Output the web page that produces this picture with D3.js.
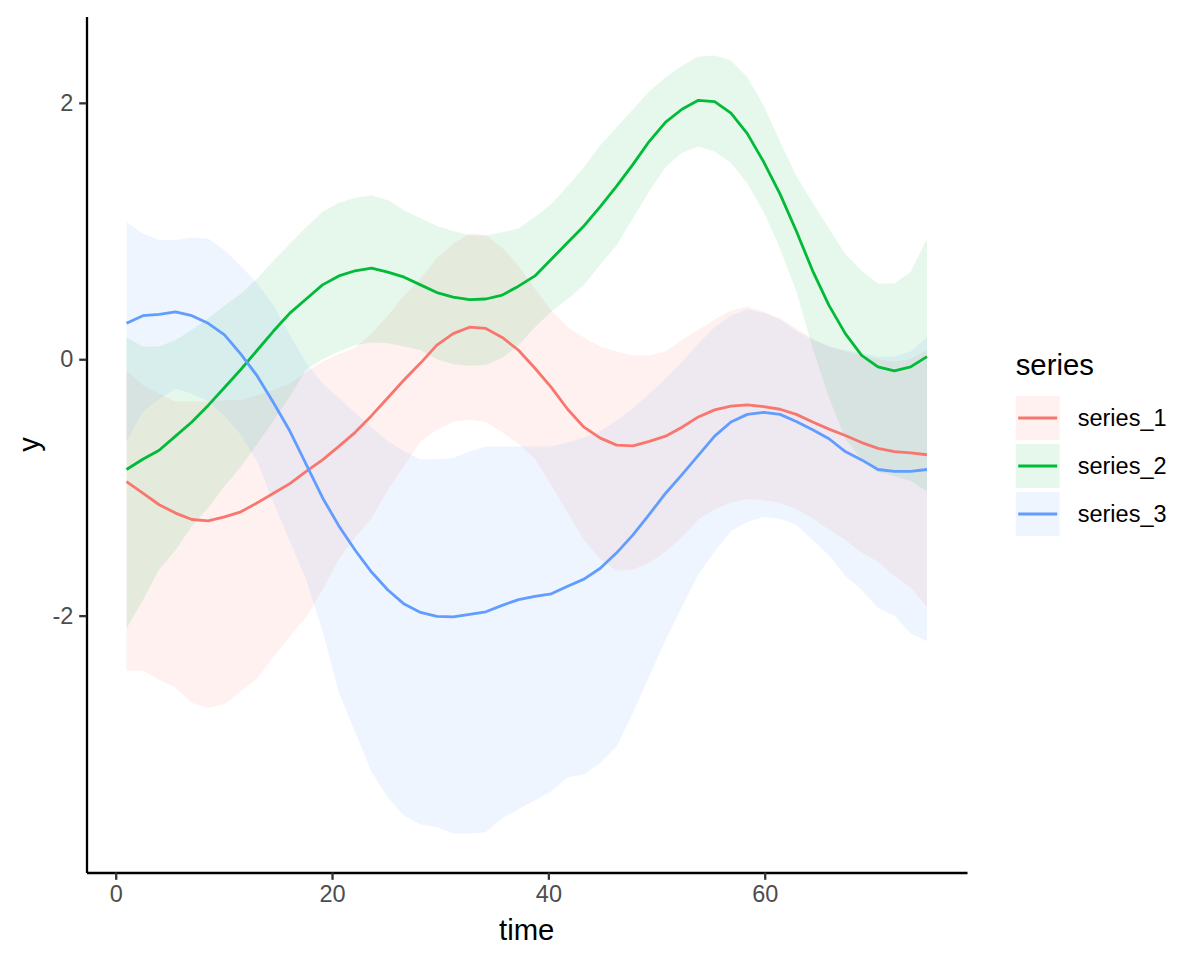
<!DOCTYPE html>
<html><head><meta charset="utf-8">
<script src="https://cdn.jsdelivr.net/npm/d3@7"></script>
<style>
body{margin:0;background:#fff}
svg{display:block}
text{font-family:"Liberation Sans", Arial, Helvetica, sans-serif}
</style>
</head><body>
<svg id="chart" width="1200" height="960"></svg>
<script>
// ---- data ----
const time = [1, 2.51, 4.02, 5.53, 7.04, 8.55, 10.06, 11.57, 13.08, 14.59, 16.10, 17.61, 19.12, 20.63, 22.14, 23.65, 25.16, 26.67, 28.18, 29.69, 31.20, 32.71, 34.22, 35.73, 37.24, 38.76, 40.27, 41.78, 43.29, 44.80, 46.31, 47.82, 49.33, 50.84, 52.35, 53.86, 55.37, 56.88, 58.39, 59.90, 61.41, 62.92, 64.43, 65.94, 67.45, 68.96, 70.47, 71.98, 73.49, 75];

const seriesNames = ["series_1", "series_2", "series_3"];

const series1 = [-0.955,-1.045,-1.135,-1.20,-1.25,-1.26,-1.23,-1.19,-1.12,-1.045,-0.97,-0.875,-0.785,-0.68,-0.57,-0.44,-0.30,-0.16,-0.03,0.11,0.20,0.25,0.24,0.17,0.07,-0.07,-0.22,-0.39,-0.53,-0.615,-0.67,-0.675,-0.64,-0.60,-0.53,-0.45,-0.395,-0.365,-0.356,-0.37,-0.39,-0.43,-0.49,-0.545,-0.595,-0.65,-0.695,-0.72,-0.73,-0.745];
const series1Upper = [-0.09,-0.20,-0.27,-0.33,-0.33,-0.33,-0.32,-0.32,-0.28,-0.24,-0.19,-0.10,-0.02,0.04,0.09,0.20,0.34,0.50,0.63,0.79,0.90,0.98,0.97,0.87,0.73,0.55,0.38,0.25,0.17,0.10,0.06,0.03,0.03,0.06,0.15,0.23,0.31,0.38,0.41,0.37,0.32,0.24,0.16,0.10,0.06,0.03,0.00,-0.02,0.00,0.07];
const series1Lower = [-2.43,-2.43,-2.50,-2.56,-2.68,-2.72,-2.69,-2.59,-2.49,-2.32,-2.16,-2.01,-1.80,-1.56,-1.39,-1.24,-1.02,-0.83,-0.64,-0.55,-0.49,-0.47,-0.49,-0.57,-0.66,-0.78,-0.98,-1.20,-1.41,-1.56,-1.65,-1.64,-1.59,-1.50,-1.39,-1.25,-1.17,-1.12,-1.09,-1.10,-1.12,-1.17,-1.24,-1.33,-1.41,-1.51,-1.58,-1.69,-1.78,-1.93];

const series2 = [-0.86,-0.78,-0.71,-0.60,-0.49,-0.36,-0.22,-0.08,0.07,0.22,0.36,0.47,0.58,0.65,0.69,0.71,0.68,0.64,0.58,0.52,0.485,0.465,0.47,0.50,0.57,0.65,0.78,0.91,1.04,1.19,1.35,1.52,1.70,1.85,1.95,2.02,2.01,1.92,1.76,1.54,1.29,1.00,0.69,0.42,0.20,0.03,-0.06,-0.09,-0.06,0.02];
const series2Upper = [0.17,0.10,0.10,0.15,0.23,0.32,0.42,0.51,0.63,0.77,0.90,1.03,1.15,1.22,1.26,1.28,1.24,1.16,1.10,1.04,1.00,0.97,0.965,0.99,1.02,1.11,1.21,1.35,1.50,1.67,1.81,1.95,2.09,2.20,2.29,2.36,2.37,2.33,2.20,1.98,1.70,1.43,1.22,1.02,0.82,0.69,0.59,0.59,0.68,0.94];
const series2Lower = [-2.10,-1.88,-1.64,-1.49,-1.30,-1.16,-0.99,-0.84,-0.66,-0.48,-0.29,-0.08,0.00,0.06,0.11,0.13,0.125,0.10,0.07,0.00,-0.04,-0.05,-0.045,0.01,0.11,0.25,0.37,0.47,0.58,0.74,0.89,1.10,1.31,1.50,1.61,1.66,1.62,1.53,1.37,1.15,0.865,0.53,0.085,-0.30,-0.62,-0.78,-0.88,-0.91,-0.95,-1.03];

const series3 = [0.28,0.34,0.35,0.37,0.34,0.28,0.19,0.04,-0.13,-0.34,-0.56,-0.82,-1.08,-1.30,-1.49,-1.66,-1.80,-1.91,-1.975,-2.005,-2.01,-1.99,-1.97,-1.92,-1.875,-1.85,-1.83,-1.77,-1.715,-1.63,-1.51,-1.37,-1.21,-1.045,-0.90,-0.75,-0.60,-0.49,-0.43,-0.415,-0.43,-0.485,-0.55,-0.62,-0.72,-0.785,-0.86,-0.875,-0.875,-0.86];
const series3Upper = [1.07,0.98,0.93,0.93,0.95,0.94,0.85,0.73,0.59,0.42,0.19,-0.03,-0.19,-0.30,-0.42,-0.53,-0.64,-0.72,-0.78,-0.78,-0.77,-0.72,-0.68,-0.68,-0.68,-0.68,-0.68,-0.65,-0.61,-0.56,-0.48,-0.38,-0.27,-0.15,-0.02,0.12,0.25,0.34,0.39,0.36,0.31,0.22,0.15,0.10,0.07,0.05,0.02,0.02,0.06,0.17];
const series3Lower = [-0.64,-0.41,-0.31,-0.23,-0.27,-0.33,-0.44,-0.59,-0.80,-1.12,-1.42,-1.72,-2.12,-2.60,-2.91,-3.22,-3.42,-3.56,-3.63,-3.65,-3.70,-3.70,-3.69,-3.58,-3.51,-3.44,-3.37,-3.26,-3.24,-3.15,-3.02,-2.76,-2.47,-2.19,-1.93,-1.68,-1.50,-1.34,-1.27,-1.23,-1.245,-1.29,-1.41,-1.53,-1.69,-1.80,-1.94,-2.00,-2.14,-2.20];

const seriesColors = ["#F8766D", "#00BA38", "#619CFF"];
const xTickValues = [0, 20, 40, 60];
const yTickValues = [-2, 0, 2];
const xTitle = "time", yTitle = "y", legendTitle = "series";

// ---- build per-series records ----
const lines = [series1, series2, series3];
const uppers = [series1Upper, series2Upper, series3Upper];
const lowers = [series1Lower, series2Lower, series3Lower];
const series = seriesNames.map((name, k) => ({
  name, color: seriesColors[k],
  points: time.map((t, i) => ({t, v: lines[k][i], lo: lowers[k][i], hi: uppers[k][i]}))
}));

// ---- layout ----
const panel = {left: 86.5, right: 967, top: 16.5, bottom: 872.5};
const svg = d3.select("#chart");

const xExt = d3.extent(time);
const xPad = (xExt[1] - xExt[0]) * 0.05;
const allY = [].concat(...uppers, ...lowers, ...lines);
const yExt = d3.extent(allY);
const yPad = (yExt[1] - yExt[0]) * 0.05;

const x = d3.scaleLinear().domain([xExt[0] - xPad, xExt[1] + xPad]).range([panel.left, panel.right]);
const y = d3.scaleLinear().domain([yExt[0] - yPad, yExt[1] + yPad]).range([panel.bottom, panel.top]);

const fontSmall = 23.5, fontTitle = 29.3;
const lineW = 2.8, axisW = 2.3, tickLen = 7.3, tickPad = 5.9;

// ribbons
const area = d3.area().x(d => x(d.t)).y0(d => y(d.lo)).y1(d => y(d.hi));
svg.append("g").selectAll("path").data(series).join("path")
  .attr("d", s => area(s.points))
  .attr("fill", s => s.color).attr("fill-opacity", 0.1).attr("stroke", "none");

// lines
const line = d3.line().x(d => x(d.t)).y(d => y(d.v));
svg.append("g").selectAll("path").data(series).join("path")
  .attr("d", s => line(s.points))
  .attr("fill", "none").attr("stroke", s => s.color)
  .attr("stroke-width", lineW).attr("stroke-linejoin", "round").attr("stroke-linecap", "butt");

// axes
function styleAxis(g) {
  g.select(".domain").attr("stroke", "#000").attr("stroke-width", axisW);
  g.selectAll(".tick line").attr("stroke", "#333333").attr("stroke-width", axisW);
  g.selectAll(".tick text").attr("fill", "#4D4D4D").attr("font-size", fontSmall)
    .attr("font-family", '"Liberation Sans", Arial, sans-serif');
}
svg.append("g").attr("transform", `translate(0,${panel.bottom})`)
  .call(d3.axisBottom(x).tickValues(xTickValues).tickFormat(d3.format("d"))
    .tickSize(tickLen).tickSizeOuter(0).tickPadding(tickPad))
  .call(styleAxis);
svg.append("g").attr("transform", `translate(${panel.left},0)`)
  .call(d3.axisLeft(y).tickValues(yTickValues).tickFormat(d => d3.format("d")(d).replace("−", "-"))
    .tickSize(tickLen).tickSizeOuter(0).tickPadding(tickPad))
  .call(styleAxis);

// axis titles
svg.append("text").attr("x", (panel.left + panel.right) / 2).attr("y", 940)
  .attr("text-anchor", "middle").attr("font-size", fontTitle).attr("fill", "#000").text(xTitle);
svg.append("text").attr("transform", `translate(39,${(panel.top + panel.bottom) / 2}) rotate(-90)`)
  .attr("text-anchor", "middle").attr("font-size", fontTitle).attr("fill", "#000").text(yTitle);

// legend
const leg = svg.append("g").attr("transform", "translate(1015.7,0)");
leg.append("text").attr("x", 0).attr("y", 375).attr("font-size", fontTitle).attr("fill", "#000").text(legendTitle);
const keySize = 44, keyStep = 48, keyTop = 396;
const items = leg.selectAll("g.item").data(series).join("g").attr("class", "item")
  .attr("transform", (d, i) => `translate(0,${keyTop + i * keyStep})`);
items.append("rect").attr("width", keySize).attr("height", keySize)
  .attr("fill", d => d.color).attr("fill-opacity", 0.1);
items.append("line").attr("x1", 2.5).attr("x2", keySize - 2.5)
  .attr("y1", keySize / 2).attr("y2", keySize / 2)
  .attr("stroke", d => d.color).attr("stroke-width", lineW);
items.append("text").attr("x", 62).attr("y", keySize / 2).attr("dy", "0.36em")
  .attr("font-size", fontSmall).attr("fill", "#000").text(d => d.name);
</script>
</body></html>
